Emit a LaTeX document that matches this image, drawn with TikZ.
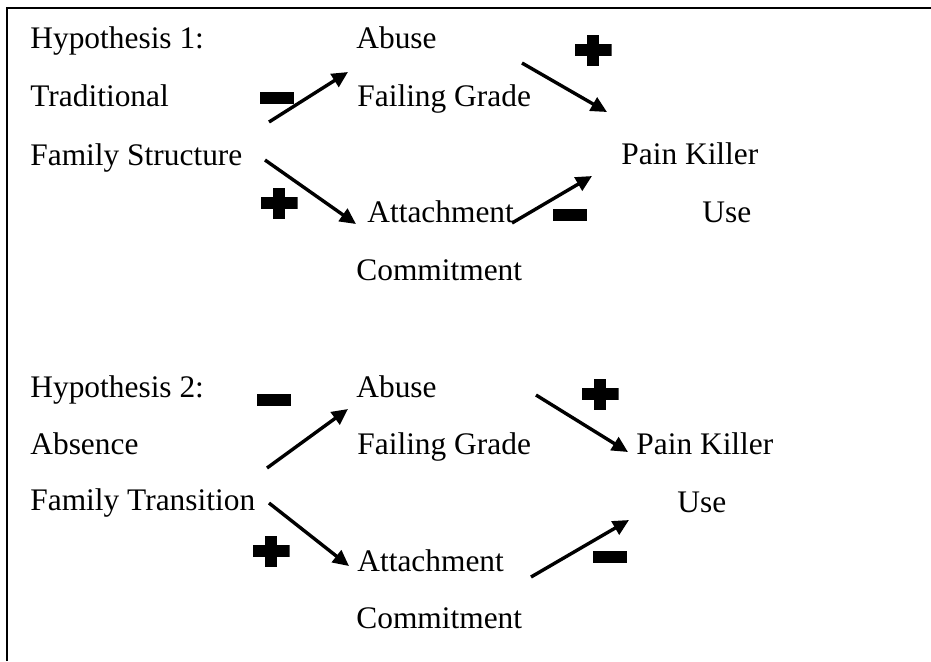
\documentclass[tikz,border=0pt]{standalone}
\usepackage{fontspec}
\setmainfont{Liberation Serif}
\usepackage{tikz}
\usetikzlibrary{arrows.meta}

\begin{document}
\begin{tikzpicture}[x=0.5pt, y=-0.5pt, font=\fontsize{15.7}{19}\selectfont,
    lbl/.style={anchor=base west, inner sep=0pt},
    arr/.style={-{Triangle[length=8pt, width=7.5pt]}, line width=1.7pt},
    minussign/.style={fill=black, minimum width=17pt, minimum height=6pt, inner sep=0pt},
    plussign/.style={minimum width=18.5pt, minimum height=15.5pt, inner sep=0pt,
      path picture={
        \fill ([yshift=-3.2pt]path picture bounding box.west) rectangle ([yshift=3.2pt]path picture bounding box.east);
        \fill ([xshift=-3.2pt]path picture bounding box.south) rectangle ([xshift=3.2pt]path picture bounding box.north);}}]
  \useasboundingbox (0,0) rectangle (931,661);
  \draw[line width=1pt] (7,661) -- (7,8) -- (931,8);

  % Hypothesis 1
  \node[lbl] (hyp1)   at (30, 48)  {Hypothesis 1:};
  \node[lbl] (trad)   at (30, 106) {Traditional};
  \node[lbl] (famstr) at (30, 165) {Family Structure};
  \node[lbl] (abuse1) at (356, 48) {Abuse};
  \node[lbl] (fail1)  at (357, 106){Failing Grade};
  \node[lbl] (pain1)  at (621, 164){Pain Killer};
  \node[lbl] (att1)   at (367, 222){Attachment};
  \node[lbl] (use1)   at (702, 222){Use};
  \node[lbl] (com1)   at (356, 280){Commitment};

  \coordinate (a1s) at (269, 122); \coordinate (a1e) at (348, 72);
  \coordinate (b1s) at (265, 160); \coordinate (b1e) at (356, 224);
  \coordinate (c1s) at (522, 63);  \coordinate (c1e) at (607, 112);
  \coordinate (d1s) at (512, 223); \coordinate (d1e) at (592, 176);
  \draw[arr] (a1s) -- (a1e);
  \draw[arr] (b1s) -- (b1e);
  \draw[arr] (c1s) -- (c1e);
  \draw[arr] (d1s) -- (d1e);

  \node[minussign] (m1a) at (277, 98)  {};
  \node[plussign]  (p1a) at (279, 203) {};
  \node[plussign]  (p1b) at (593, 50)  {};
  \node[minussign] (m1b) at (570, 215) {};

  % Hypothesis 2
  \node[lbl] (hyp2)   at (30, 397) {Hypothesis 2:};
  \node[lbl] (absn)   at (30, 454) {Absence};
  \node[lbl] (famtr)  at (30, 510) {Family Transition};
  \node[lbl] (abuse2) at (356, 397){Abuse};
  \node[lbl] (fail2)  at (357, 454){Failing Grade};
  \node[lbl] (pain2)  at (636, 454){Pain Killer};
  \node[lbl] (use2)   at (677, 512){Use};
  \node[lbl] (att2)   at (357, 571){Attachment};
  \node[lbl] (com2)   at (356, 628){Commitment};

  \coordinate (a2s) at (267, 468); \coordinate (a2e) at (348, 409);
  \coordinate (b2s) at (269, 503); \coordinate (b2e) at (349, 566);
  \coordinate (c2s) at (536, 395); \coordinate (c2e) at (628, 452);
  \coordinate (d2s) at (531, 577); \coordinate (d2e) at (629, 520);
  \draw[arr] (a2s) -- (a2e);
  \draw[arr] (b2s) -- (b2e);
  \draw[arr] (c2s) -- (c2e);
  \draw[arr] (d2s) -- (d2e);

  \node[minussign] (m2a) at (274, 400) {};
  \node[plussign]  (p2a) at (600, 394) {};
  \node[plussign]  (p2b) at (271, 551) {};
  \node[minussign] (m2b) at (610, 557) {};
\end{tikzpicture}
\end{document}
